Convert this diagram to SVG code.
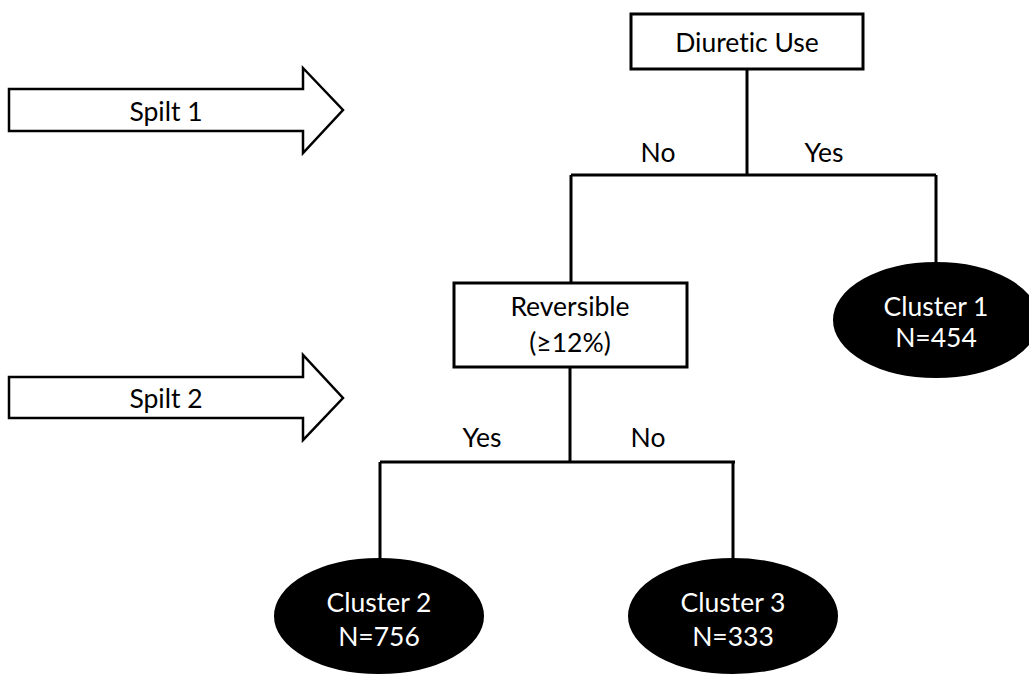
<svg xmlns="http://www.w3.org/2000/svg" width="1029" height="675" viewBox="0 0 1029 675">
<style>
.t{font-family:Lato,"Open Sans","Liberation Sans",sans-serif;font-size:26.5px;fill:#000;text-anchor:middle;font-variant-ligatures:none}
.w{fill:#fff}
.box{fill:#fff;stroke:#000;stroke-width:3}
.arr{fill:#fff;stroke:#000;stroke-width:2.5;stroke-linejoin:miter}
.ell{fill:#000;stroke:#000;stroke-width:2}
.ln{fill:none;stroke:#000;stroke-width:3}
</style>
<rect width="1029" height="675" fill="#fff"/>
<g id="split1">
<polygon class="arr" points="9,89 303,89 303,68 343,110 303,153 303,131 9,131"/>
<text class="t" x="166" y="121">Spilt 1</text>
</g>
<g id="split2">
<polygon class="arr" points="9,377 303,377 303,355 343,398 303,440 303,418 9,418"/>
<text class="t" x="166" y="408">Spilt 2</text>
</g>
<g id="connectors">
<path class="ln" d="M747,69 V175 M571,175 H936 M571,175 V283 M936,175 V263"/>
<path class="ln" d="M570,367 V462 M380,462 H735 M380,462 V560 M733,462 V560"/>
<text class="t" x="658" y="162">No</text>
<text class="t" x="824" y="162">Yes</text>
<text class="t" x="482" y="447">Yes</text>
<text class="t" x="648" y="447">No</text>
</g>
<g id="diuretic">
<rect class="box" x="631" y="14" width="232" height="55"/>
<text class="t" x="747" y="52">Diuretic Use</text>
</g>
<g id="reversible">
<rect class="box" x="454" y="283" width="233" height="84"/>
<text class="t" x="570" y="316">Reversible</text>
<text class="t" x="570" y="352">(≥12%)</text>
</g>
<g id="cluster1">
<ellipse class="ell" cx="936" cy="320" rx="102" ry="57"/>
<text class="t w" x="936" y="316">Cluster 1</text>
<text class="t w" x="936" y="347">N=454</text>
</g>
<g id="cluster2">
<ellipse class="ell" cx="379" cy="616" rx="104" ry="57"/>
<text class="t w" x="379" y="612">Cluster 2</text>
<text class="t w" x="379" y="646">N=756</text>
</g>
<g id="cluster3">
<ellipse class="ell" cx="733" cy="616" rx="104" ry="57"/>
<text class="t w" x="733" y="612">Cluster 3</text>
<text class="t w" x="733" y="646">N=333</text>
</g>
</svg>
